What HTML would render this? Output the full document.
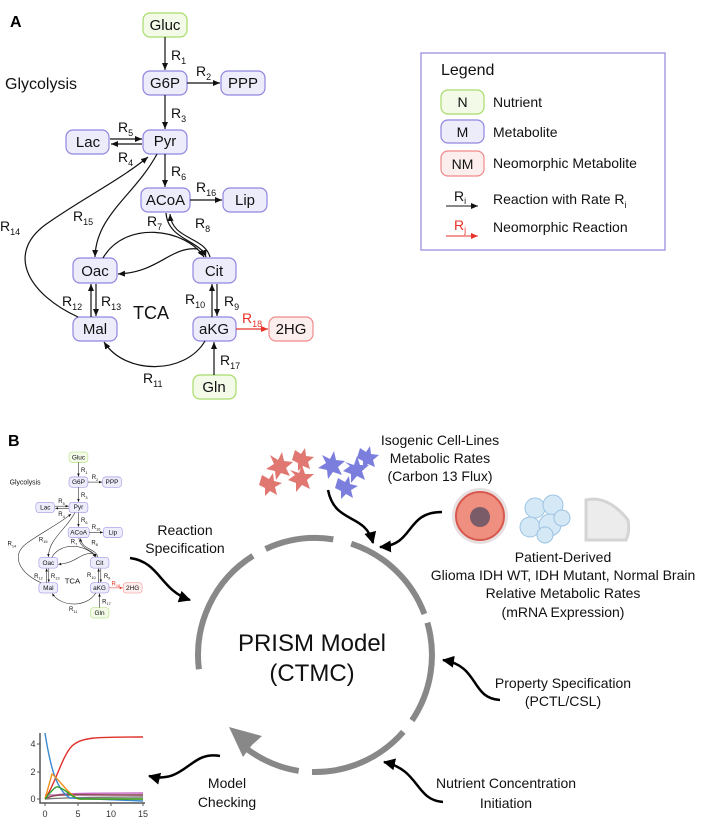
<!DOCTYPE html>
<html><head><meta charset="utf-8"><style>
html,body{margin:0;padding:0;background:#fff}
svg{display:block;font-family:"Liberation Sans",Arial,sans-serif}
</style></head><body>
<svg width="709" height="819" viewBox="0 0 709 819" xmlns="http://www.w3.org/2000/svg">
<defs>
<marker id="ah" markerWidth="8" markerHeight="8" refX="7" refY="4" orient="auto" markerUnits="userSpaceOnUse"><path d="M0,1 L7,4 L0,7 Z" fill="#111"/></marker>
<marker id="ahr" markerWidth="8" markerHeight="8" refX="7" refY="4" orient="auto" markerUnits="userSpaceOnUse"><path d="M0,1 L7,4 L0,7 Z" fill="#e8322a"/></marker>
<marker id="big" markerWidth="14" markerHeight="14" refX="11" refY="7" orient="auto" markerUnits="userSpaceOnUse"><path d="M0,1 L12,7 L0,13 Z" fill="#000"/></marker>
<g id="net">
<g stroke-width="1.2">
<rect x="143" y="13" width="44" height="24" rx="7" fill="#f3fae8" stroke="#a7dc6a"/>
<rect x="143" y="71" width="44" height="24" rx="7" fill="#edecfb" stroke="#8f86e0"/>
<rect x="221" y="71" width="44" height="24" rx="7" fill="#edecfb" stroke="#8f86e0"/>
<rect x="66" y="130" width="43" height="24" rx="7" fill="#edecfb" stroke="#8f86e0"/>
<rect x="143" y="130" width="44" height="24" rx="7" fill="#edecfb" stroke="#8f86e0"/>
<rect x="141" y="188" width="49" height="24" rx="7" fill="#edecfb" stroke="#8f86e0"/>
<rect x="223" y="188" width="44" height="24" rx="7" fill="#edecfb" stroke="#8f86e0"/>
<rect x="73" y="258" width="44" height="25" rx="7" fill="#edecfb" stroke="#8f86e0"/>
<rect x="193" y="258" width="43" height="25" rx="7" fill="#edecfb" stroke="#8f86e0"/>
<rect x="73" y="317" width="44" height="24" rx="7" fill="#edecfb" stroke="#8f86e0"/>
<rect x="193" y="317" width="43" height="24" rx="7" fill="#edecfb" stroke="#8f86e0"/>
<rect x="269" y="317" width="44" height="24" rx="7" fill="#fdeeee" stroke="#f08a8a"/>
<rect x="193" y="375" width="43" height="24" rx="7" fill="#f3fae8" stroke="#a7dc6a"/>
</g>
<g font-size="15" fill="#111" text-anchor="middle">
<text x="165" y="30">Gluc</text><text x="165" y="88">G6P</text><text x="243" y="88">PPP</text>
<text x="88" y="147">Lac</text><text x="165" y="146">Pyr</text><text x="165.5" y="205">ACoA</text>
<text x="245" y="205">Lip</text><text x="95" y="276">Oac</text><text x="214" y="276">Cit</text>
<text x="95" y="334">Mal</text><text x="214" y="334">aKG</text><text x="291" y="334">2HG</text>
<text x="214" y="392">Gln</text>
</g>
<g stroke="#111" stroke-width="1.2" fill="none" marker-end="url(#ah)">
<path d="M165,37 V70"/><path d="M187,83 H220"/><path d="M165,95 V129"/>
<path d="M110,139 H142"/><path d="M142,144 H111"/>
<path d="M165,154 V187"/><path d="M190,200 H222"/>
<path d="M157,154 C135,195 96,215 95,257"/>
<path d="M78,317 C30,295 5,255 45,225 C80,200 120,180 148,157"/>
<path d="M166,213 C168,240 200,240 206,257"/>
<path d="M210,257 C204,236 172,240 170,214"/>
<path d="M103,258 C125,220 185,228 204,257"/>
<path d="M198,249 C170,246 160,272 118,274"/>
<path d="M91,317 V284"/><path d="M96,284 V316"/>
<path d="M212,317 V284"/><path d="M217,284 V316"/>
<path d="M214,375 V342"/>
<path d="M205,341 C185,375 125,375 104,342"/>
</g>
<path d="M236,329 H268" stroke="#e8322a" stroke-width="1.2" marker-end="url(#ahr)"/>
<g font-size="14" fill="#111">
<text x="171" y="60">R<tspan font-size="9" dy="4">1</tspan></text>
<text x="196" y="76">R<tspan font-size="9" dy="4">2</tspan></text>
<text x="171" y="118">R<tspan font-size="9" dy="4">3</tspan></text>
<text x="118" y="132">R<tspan font-size="9" dy="4">5</tspan></text>
<text x="118" y="162">R<tspan font-size="9" dy="4">4</tspan></text>
<text x="171" y="176">R<tspan font-size="9" dy="4">6</tspan></text>
<text x="196" y="192">R<tspan font-size="9" dy="4">16</tspan></text>
<text x="147" y="226">R<tspan font-size="9" dy="4">7</tspan></text>
<text x="195" y="228">R<tspan font-size="9" dy="4">8</tspan></text>
<text x="73" y="221">R<tspan font-size="9" dy="4">15</tspan></text>
<text x="0" y="231">R<tspan font-size="9" dy="4">14</tspan></text>
<text x="62" y="306">R<tspan font-size="9" dy="4">12</tspan></text>
<text x="101" y="306">R<tspan font-size="9" dy="4">13</tspan></text>
<text x="185" y="304">R<tspan font-size="9" dy="4">10</tspan></text>
<text x="224" y="306">R<tspan font-size="9" dy="4">9</tspan></text>
<text x="220" y="365">R<tspan font-size="9" dy="4">17</tspan></text>
<text x="143" y="383">R<tspan font-size="9" dy="4">11</tspan></text>
<text x="242" y="323" fill="#e8322a">R<tspan font-size="9" dy="4">18</tspan></text>
<text x="133" y="319" font-size="18">TCA</text>
<text x="5" y="89" font-size="16">Glycolysis</text>
</g>
</g>
</defs>

<text x="10" y="27" font-size="16" font-weight="bold">A</text>
<use href="#net"/>

<!-- Legend -->
<rect x="421" y="53" width="244" height="197" fill="#fff" stroke="#9a90e0" stroke-width="1.3"/>
<text x="441" y="75" font-size="16" fill="#111">Legend</text>
<rect x="441" y="90" width="43" height="24" rx="7" fill="#f3fae8" stroke="#a7dc6a" stroke-width="1.2"/>
<rect x="441" y="120" width="43" height="23" rx="7" fill="#edecfb" stroke="#8f86e0" stroke-width="1.2"/>
<rect x="441" y="151" width="43" height="25" rx="7" fill="#fdeeee" stroke="#f08a8a" stroke-width="1.2"/>
<g font-size="14" fill="#111">
<text x="462.5" y="107" text-anchor="middle">N</text><text x="493" y="107">Nutrient</text>
<text x="462.5" y="137" text-anchor="middle">M</text><text x="493" y="137">Metabolite</text>
<text x="462.5" y="169" text-anchor="middle">NM</text><text x="493" y="168">Neomorphic Metabolite</text>
<text x="454" y="201">R<tspan font-size="9" dy="3">i</tspan></text>
<text x="493" y="204">Reaction with Rate R<tspan font-size="9" dy="4">i</tspan></text>
<text x="454" y="230" fill="#e8322a">R<tspan font-size="9" dy="3">j</tspan></text>
<text x="493" y="232">Neomorphic Reaction</text>
</g>
<path d="M446,206 H478" stroke="#111" stroke-width="1" marker-end="url(#ah)"/>
<path d="M446,236 H478" stroke="#e8322a" stroke-width="1" marker-end="url(#ahr)"/>

<!-- Panel B -->
<text x="8" y="446" font-size="16" font-weight="bold">B</text>
<use href="#net" transform="translate(7.5,446.4) scale(0.43)"/>

<g stroke="#888" stroke-width="6" fill="none">
<path d="M198.9,669.3 A117,117 0 0 1 253.0,555.8"/>
<path d="M265.6,549 A117,117 0 0 1 333.3,539.4"/>
<path d="M351.2,543.7 A117,117 0 0 1 424.4,614.0"/>
<path d="M427.4,622.7 A117,117 0 0 1 412.0,720.4"/>
<path d="M403.3,731.8 A117,117 0 0 1 312,772"/>
<path d="M298.7,770.9 A117,117 0 0 1 247,749"/>
</g>
<path d="M229,727 L262,736 L252,745 L243,757 Z" fill="#888"/>

<g font-size="14" fill="#111" text-anchor="middle">
<text x="185" y="535">Reaction</text><text x="185" y="553">Specification</text>
<text x="440" y="445">Isogenic Cell-Lines</text><text x="440" y="463">Metabolic Rates</text><text x="440" y="481">(Carbon 13 Flux)</text>
<text x="563" y="562">Patient-Derived</text><text x="563" y="580">Glioma IDH WT, IDH Mutant, Normal Brain</text>
<text x="563" y="598">Relative Metabolic Rates</text><text x="563" y="617">(mRNA Expression)</text>
<text x="563" y="688">Property Specification</text><text x="563" y="706">(PCTL/CSL)</text>
<text x="506" y="788">Nutrient Concentration</text><text x="506" y="808">Initiation</text>
<text x="227" y="788">Model</text><text x="227" y="807">Checking</text>
<text x="312" y="651" font-size="24">PRISM Model</text><text x="312" y="681" font-size="24">(CTMC)</text>
</g>

<g stroke="#000" stroke-width="2.5" fill="none" marker-end="url(#big)">
<path d="M130,558 C160,562 160,590 190,600"/>
<path d="M328,490 C335,525 365,512 373,543"/>
<path d="M442,512 C405,512 415,545 380,547"/>
<path d="M500,700 C470,698 480,666 443,660"/>
<path d="M443,802 C415,800 420,770 384,762"/>
<path d="M220,756 C190,750 185,785 149,776"/>
</g>

<g>
<g fill="#d9564e" opacity="0.8">
<path d="M270,455 l8,5 l4,-8 l2,9 l9,1 l-7,6 l4,8 l-9,-3 l-5,7 l-1,-9 l-9,-2 l8,-5z"/>
<path d="M290,470 l9,3 l3,-8 l3,9 l9,0 l-7,6 l3,9 l-8,-4 l-6,7 l0,-9 l-8,-3 l7,-5z"/>
<path d="M262,475 l7,4 l4,-6 l1,8 l8,2 l-7,4 l2,8 l-7,-4 l-5,5 l0,-8 l-6,-3z"/>
<path d="M295,450 l6,4 l4,-6 l1,8 l8,1 l-6,5 l2,7 l-7,-3 l-5,5 l0,-8 l-6,-3z"/>
</g>
<g fill="#5c5fd6" opacity="0.8">
<path d="M322,455 l8,4 l4,-8 l2,9 l9,1 l-7,6 l4,8 l-9,-3 l-5,7 l-1,-9 l-9,-2 l8,-5z"/>
<path d="M345,462 l9,3 l3,-9 l3,9 l9,0 l-7,6 l3,9 l-8,-4 l-6,7 l0,-9 l-8,-3 l7,-5z"/>
<path d="M338,478 l7,4 l4,-6 l1,8 l8,2 l-7,4 l2,8 l-7,-4 l-5,5 l0,-8 l-6,-3z"/>
<path d="M360,448 l6,4 l4,-6 l1,8 l8,1 l-6,5 l2,7 l-7,-3 l-5,5 l0,-8 l-6,-3z"/>
</g>
<circle cx="480" cy="516" r="28" fill="#e7e0e0"/>
<circle cx="480" cy="516" r="24" fill="#ee8f80" stroke="#d9584e" stroke-width="2"/>
<circle cx="480" cy="517" r="10" fill="#7a5c68"/>
<g fill="#d5e8f5" stroke="#9cc3e3" stroke-width="1">
<circle cx="535" cy="508" r="10"/><circle cx="553" cy="505" r="10"/><circle cx="530" cy="527" r="10"/>
<circle cx="550" cy="525" r="11"/><circle cx="562" cy="518" r="8"/><circle cx="545" cy="535" r="8"/>
</g>
<path d="M586,500 Q608,495 628,520 Q630,532 626,540 L586,540 Z" fill="#ececec" stroke="#d4d4d4" stroke-width="3"/>
</g>

<g stroke="#555" stroke-width="1.5" fill="none">
<path d="M40,733 V803 H145"/>
<path d="M37,744 H40 M37,772 H40 M37,799 H40 M45,803 V806 M78,803 V806 M111,803 V806 M143,803 V806" stroke-width="1"/>
</g>
<g font-size="9" fill="#333" text-anchor="middle">
<text x="33" y="747">4</text><text x="33" y="775">2</text><text x="33" y="802">0</text>
<text x="45" y="817">0</text><text x="78" y="817">5</text><text x="111" y="817">10</text><text x="143" y="817">15</text>
</g>
<g fill="none" stroke-width="1.4">
<path d="M45,795 H143" stroke="#c77cc8"/>
<path d="M45,799 C55,793 65,793 143,793" stroke="#c466c4"/>
<path d="M45,799 C55,793 65,795 143,795" stroke="#8b4a4a"/>
<path d="M45,799 C60,798 80,797 143,797" stroke="#7b7b7b"/>
<path d="M45,799 C55,785 62,756 72,746 C82,737 95,737 143,737" stroke="#e0302a"/>
<path d="M45,733 C50,765 56,790 70,798 L143,801" stroke="#3a8ad0"/>
<path d="M45,799 L52,774 C60,780 66,792 78,799 L143,799" stroke="#f39019"/>
<path d="M45,799 C52,790 56,786 58,787 C66,789 70,797 80,799 L143,799" stroke="#2aa02a"/>
</g>
</svg>
</body></html>
